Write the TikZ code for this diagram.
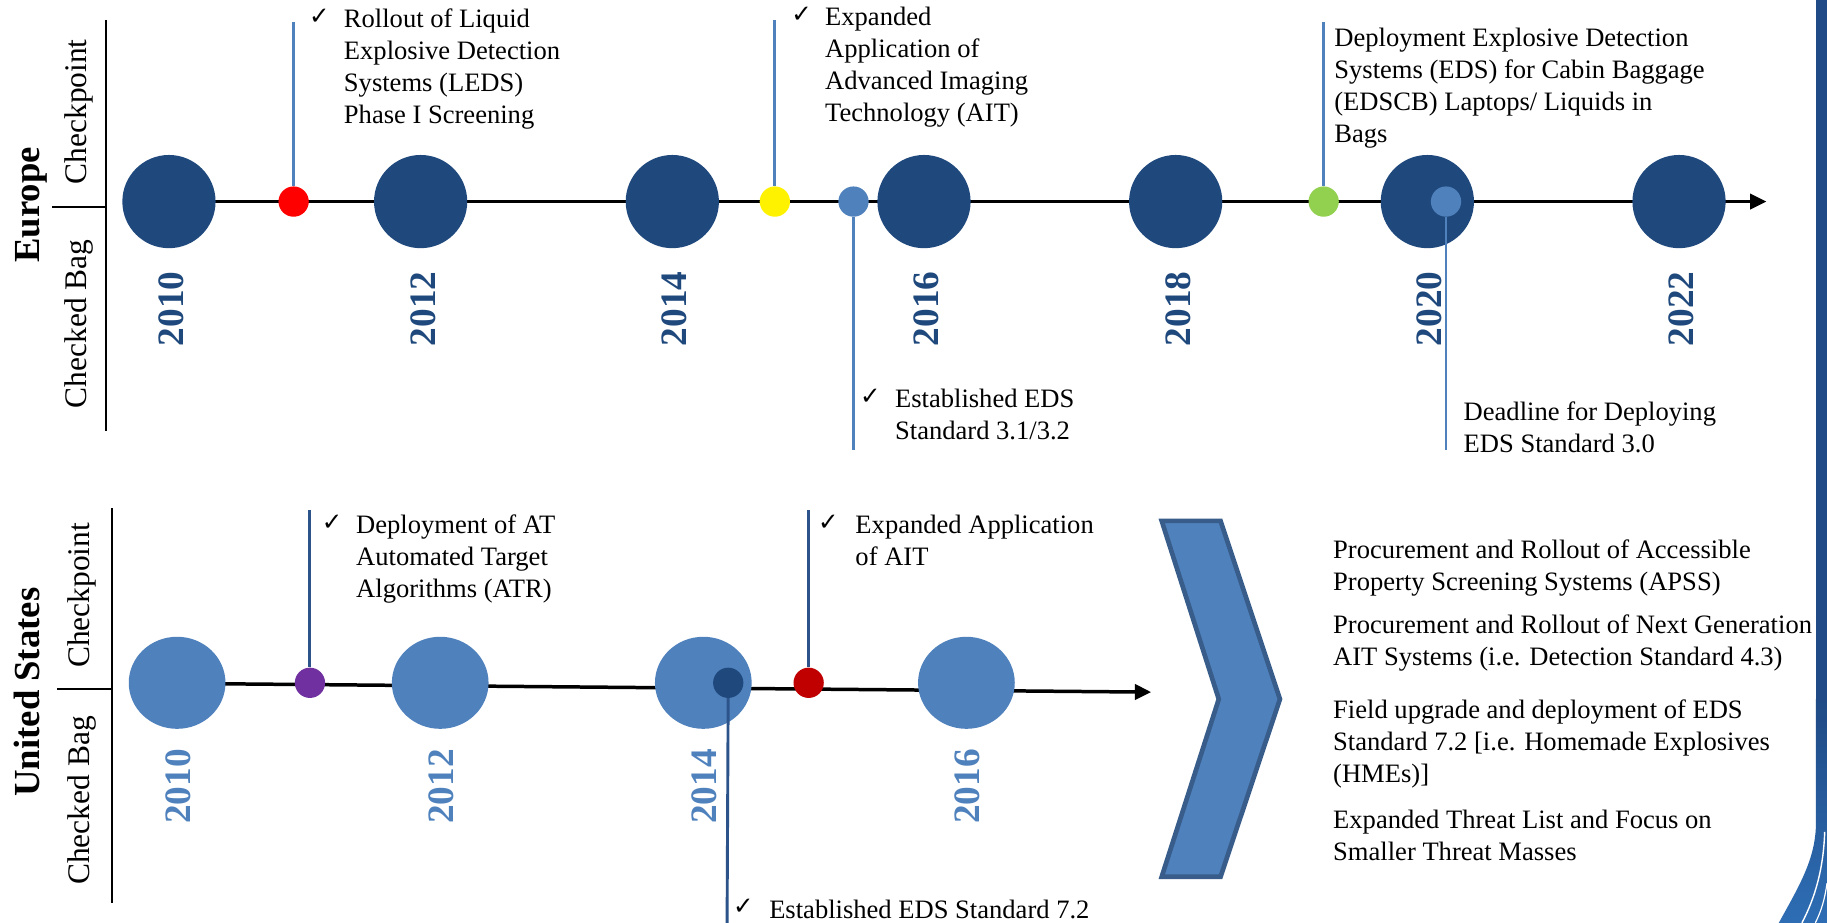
\documentclass[tikz,border=0pt]{standalone}
\usepackage{fontspec}
\setmainfont{Liberation Serif}
\newfontfamily\symfont{DejaVu Sans}
\usetikzlibrary{arrows.meta,shapes.geometric}
\definecolor{eudark}{HTML}{1F497D}
\definecolor{usblue}{HTML}{4F81BD}
\definecolor{usline}{HTML}{2C548A}
\definecolor{chevborder}{HTML}{385D8A}
\definecolor{eugreen}{HTML}{92D050}
\definecolor{usred}{HTML}{C00000}
\definecolor{uspurple}{HTML}{7030A0}
\definecolor{bandtop}{HTML}{1F4A85}
\definecolor{bandbot}{HTML}{2E6EB5}
\newcommand\mlines[1]{\begin{tabular}[t]{@{}l@{}}#1\end{tabular}}
\tikzset{
  eucircle/.style={circle, fill=eudark, minimum size=80pt, inner sep=0pt},
  uscircle/.style={ellipse, fill=usblue, minimum width=83pt, minimum height=79pt, inner sep=0pt},
  smalldot/.style={circle, minimum size=26pt, inner sep=0pt},
  yearlbl/.style={rotate=90, anchor=center, inner sep=0pt, font=\fontsize{32}{36}\selectfont\bfseries},
  regionlbl/.style={rotate=90, anchor=base, inner sep=0pt, font=\fontsize{31.5}{36}\selectfont\bfseries},
  lanelbl/.style={rotate=90, anchor=base, inner sep=0pt, font=\fontsize{27}{32}\selectfont},
  bodytxt/.style={anchor=base west, inner sep=0pt, font=\fontsize{22.8}{27.4}\selectfont},
  chk/.style={anchor=base west, inner sep=0pt, font=\symfont\fontsize{21}{24}\selectfont},
  tline/.style={line width=3pt, draw=black},
  divider/.style={line width=1.6pt, draw=black},
  calleu/.style={line width=2.5pt, draw=usblue},
  callus/.style={line width=2.5pt, draw=usline},
  chev/.style={fill=usblue, draw=chevborder, line width=4pt, line join=miter},
}
\begin{document}
\begin{tikzpicture}[x=1pt,y=-1pt]
\useasboundingbox (0,0) rectangle (1568,792);
\fill[white] (0,0) rectangle (1568,792);

% right decorative band
\fill[bandtop] (1558.5,-2) rectangle (1572,712);
\shade[top color=bandtop, bottom color=bandbot]
  (1558.5,600) -- (1572,600) -- (1572,795) -- (1525,795)
  .. controls (1543,762) and (1558.5,738) .. (1558.5,706) -- cycle;
\draw[white, line width=1.2pt] (1566,714) .. controls (1565,745) and (1558,770) .. (1546.5,792);
\draw[white, line width=1pt] (1568,758) .. controls (1566,772) and (1563,782) .. (1558,792);

% ---------------- Europe ----------------
\draw[divider] (91,17) -- (91,370);
\draw[divider] (45,178) -- (91,178);
\node[regionlbl] (europe) at (34,176) {Europe};
\node[lanelbl] (eCheck) at (74,96) {Checkpoint};
\node[lanelbl] (eBag) at (74,278) {Checked Bag};

\coordinate (eS) at (145,173);
\coordinate (eE) at (1516,173);
\draw[tline, -{Triangle[length=14pt,width=13pt]}] (eS) -- (eE);

\foreach \i/\yr in {0/2010,1/2012,2/2014,3/2016,4/2018,5/2020,6/2022}{
  \node[eucircle] (e\yr) at ({145+216*\i},173) {};
  \node[yearlbl, text=eudark] (ey\yr) at ({147+216*\i},265) {\yr};
}

\node[smalldot, fill=red] (eRed) at (252,173) {};
\node[smalldot, fill=yellow] (eYel) at (665,173) {};
\node[smalldot, fill=usblue] (eLb) at (732.5,173) {};
\node[smalldot, fill=eugreen] (eGrn) at (1136,173) {};
\node[smalldot, fill=usblue] (eDl) at (1241,173) {};

\coordinate (eRedT) at (252,19);
\coordinate (eYelT) at (665,17);
\coordinate (eLbB) at (732.5,386);
\coordinate (eGrnT) at (1136,19);
\coordinate (eDlB) at (1241,386);
\draw[calleu] (eRed) -- (eRedT);
\draw[calleu] (eYel) -- (eYelT);
\draw[calleu] (eLb) -- (eLbB);
\draw[calleu] (eGrn) -- (eGrnT);
\draw[calleu] (eDl) -- (eDlB);

\node[chk] (eRedCk) at (265,21) {✓};
\node[bodytxt] (eRedTx) at (295,24) {\mlines{Rollout of Liquid\\Explosive Detection\\Systems (LEDS)\\Phase I Screening}};
\node[chk] (eYelCk) at (679,19) {✓};
\node[bodytxt] (eYelTx) at (708,22) {\mlines{Expanded\\Application of\\Advanced Imaging\\Technology (AIT)}};
\node[chk] (eLbCk) at (738,347) {✓};
\node[bodytxt] (eLbTx) at (768,350) {\mlines{Established EDS\\Standard 3.1/3.2}};
\node[bodytxt] (eGrnTx) at (1145,40) {\mlines{Deployment Explosive Detection\\Systems (EDS) for Cabin Baggage\\(EDSCB) Laptops/ Liquids in\\Bags}};
\node[bodytxt] (eDlTx) at (1256,361) {\mlines{Deadline for Deploying\\EDS Standard 3.0}};

% ---------------- United States ----------------
\draw[divider] (96,436) -- (96,775);
\draw[divider] (49,591) -- (96,591);
\node[regionlbl] (us) at (34,594) {United States};
\node[lanelbl] (uCheck) at (77,511) {Checkpoint};
\node[lanelbl] (uBag) at (77,687) {Checked Bag};

\coordinate (uS) at (152,586.5);
\coordinate (uE) at (988,594);
\draw[tline, -{Triangle[length=14pt,width=13pt]}] (uS) -- (uE);

\foreach \i/\yr in {0/2010,1/2012,2/2014,3/2016}{
  \node[uscircle] (u\yr) at ({152+225.8*\i},586) {};
  \node[yearlbl, text=usblue] (uy\yr) at ({153+225.8*\i},675) {\yr};
}

\node[smalldot, fill=uspurple] (uPur) at (266,586) {};
\node[smalldot, fill=eudark] (uDk) at (625,586) {};
\node[smalldot, fill=usred] (uRed) at (694,586) {};

\coordinate (uPurT) at (266,438);
\coordinate (uRedT) at (694,438);
\coordinate (uDkB) at (624,792);
\draw[callus] (uPur) -- (uPurT);
\draw[callus] (uRed) -- (uRedT);
\draw[callus] (uDk) -- (uDkB);

\node[chk] (uPurCk) at (276,455) {✓};
\node[bodytxt] (uPurTx) at (305.5,458) {\mlines{Deployment of AT\\Automated Target\\Algorithms (ATR)}};
\node[chk] (uRedCk) at (702,455) {✓};
\node[bodytxt] (uRedTx) at (734,458) {\mlines{Expanded Application\\of AIT}};
\node[chk] (uDkCk) at (629,785) {✓};
\node[bodytxt] (uDkTx) at (660,788) {Established EDS Standard 7.2};

% chevron
\draw[chev] (997,447) -- (1047.5,447) -- (1098.5,600) -- (1047.5,752.5) -- (997,752.5) -- (1046,600) -- cycle;

% future list
\node[bodytxt] (f1) at (1144,479) {\mlines{Procurement and Rollout of Accessible\\Property Screening Systems (APSS)}};
\node[bodytxt] (f2) at (1144,543.5) {\mlines{Procurement and Rollout of Next Generation\\AIT Systems (i.e. Detection Standard 4.3)}};
\node[bodytxt] (f3) at (1144,616.5) {\mlines{Field upgrade and deployment of EDS\\Standard 7.2 [i.e. Homemade Explosives\\(HMEs)]}};
\node[bodytxt] (f4) at (1144,711) {\mlines{Expanded Threat List and Focus on\\Smaller Threat Masses}};
\end{tikzpicture}
\end{document}
